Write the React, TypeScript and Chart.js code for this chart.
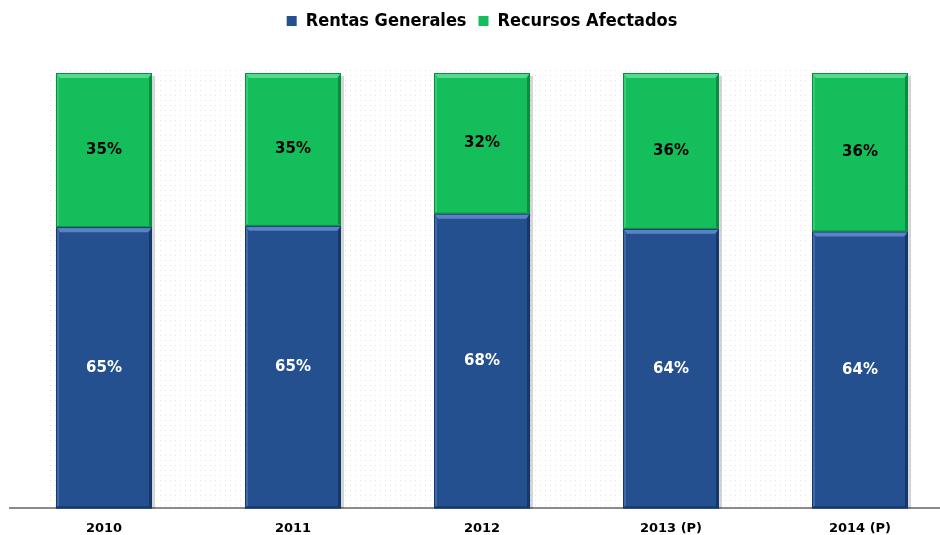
import React, { useEffect, useRef } from 'react';
import { Chart, registerables } from 'chart.js';

Chart.register(...registerables);

const categories = ['2010', '2011', '2012', '2013 (P)', '2014 (P)'];
const rentasGenerales = [64.6, 64.9, 67.7, 64.2, 63.6];
const recursosAfectados = [35.4, 35.1, 32.3, 35.8, 36.4];
const seriesNames = ['Rentas Generales', 'Recursos Afectados'];

const BLUE = '#24508F';
const BLUE_LIGHT = '#5A83C6';
const BLUE_DARK = '#17386A';
const GREEN = '#14BF5B';
const GREEN_LIGHT = '#52DB8D';
const GREEN_DARK = '#0B8C40';

function makeDotPattern(ctx: CanvasRenderingContext2D) {
  const c = document.createElement('canvas');
  c.width = 5;
  c.height = 5;
  const g = c.getContext('2d')!;
  g.fillStyle = 'rgba(170,170,170,0.3)';
  g.fillRect(0, 0, 1, 1);
  return ctx.createPattern(c, 'repeat');
}

const decorPlugin = {
  id: 'decor',
  beforeInit(chart: any) {
    const legend = chart.legend;
    if (legend) {
      const fit = legend.fit;
      legend.fit = function () {
        fit.call(this);
        this.height = 73;
      };
    }
  },
  beforeDatasetsDraw(chart: any) {
    const ctx: CanvasRenderingContext2D = chart.ctx;
    const meta0 = chart.getDatasetMeta(0);
    const meta1 = chart.getDatasetMeta(1);
    const els0 = meta0.data.map((e: any) => e.getProps(['x', 'y', 'base', 'width'], true));
    const els1 = meta1.data.map((e: any) => e.getProps(['x', 'y', 'base', 'width'], true));
    const first = els0[0];
    const last = els0[els0.length - 1];
    const left = first.x - first.width / 2 - 7;
    const right = last.x + last.width / 2 + 7;
    const top = chart.chartArea.top - 3;
    const bottom = chart.chartArea.bottom;
    ctx.save();
    const pat = makeDotPattern(ctx);
    if (pat) {
      ctx.fillStyle = pat;
      ctx.fillRect(left, top, right - left, bottom - top);
    }
    // shadows
    ctx.fillStyle = 'rgba(0,0,0,0.16)';
    els0.forEach((b: any, i: number) => {
      const t = els1[i].y;
      const r = b.x + b.width / 2;
      ctx.fillRect(r, t + 3, 3, bottom - t - 3);
    });
    ctx.restore();
  },
  afterDatasetsDraw(chart: any) {
    const ctx: CanvasRenderingContext2D = chart.ctx;
    ctx.save();
    chart.data.datasets.forEach((ds: any, di: number) => {
      const meta = chart.getDatasetMeta(di);
      const light = di === 0 ? BLUE_LIGHT : GREEN_LIGHT;
      const dark = di === 0 ? BLUE_DARK : GREEN_DARK;
      meta.data.forEach((el: any) => {
        const p = el.getProps(['x', 'y', 'base', 'width'], true);
        const l = p.x - p.width / 2;
        const r = p.x + p.width / 2;
        const t = Math.min(p.y, p.base);
        const b = Math.max(p.y, p.base);
        // top bevel
        ctx.fillStyle = light;
        ctx.beginPath();
        ctx.moveTo(l, t);
        ctx.lineTo(r, t);
        ctx.lineTo(r - 4, t + 5);
        ctx.lineTo(l + 4, t + 5);
        ctx.closePath();
        ctx.fill();
        // left bevel
        ctx.globalAlpha = 0.5;
        ctx.beginPath();
        ctx.moveTo(l, t);
        ctx.lineTo(l + 3, t + 5);
        ctx.lineTo(l + 3, b - 2);
        ctx.lineTo(l, b);
        ctx.closePath();
        ctx.fill();
        ctx.globalAlpha = 1;
        // right bevel
        ctx.fillStyle = dark;
        ctx.beginPath();
        ctx.moveTo(r, t);
        ctx.lineTo(r, b);
        ctx.lineTo(r - 3, b - 2);
        ctx.lineTo(r - 3, t + 5);
        ctx.closePath();
        ctx.fill();
        if (di === 0) {
          ctx.fillRect(l, b - 2, r - l, 2);
        }
        ctx.strokeStyle = dark;
        ctx.lineWidth = 1;
        ctx.strokeRect(l + 0.5, t + 0.5, r - l - 1, b - t - 1);
      });
    });
    // value labels
    ctx.font = "bold 15px 'DejaVu Sans', Verdana, sans-serif";
    ctx.textAlign = 'center';
    ctx.textBaseline = 'middle';
    chart.data.datasets.forEach((ds: any, di: number) => {
      const meta = chart.getDatasetMeta(di);
      ctx.fillStyle = di === 0 ? '#ffffff' : '#000000';
      meta.data.forEach((el: any, i: number) => {
        const p = el.getProps(['x', 'y', 'base'], true);
        ctx.fillText(Math.round(ds.data[i]) + '%', p.x, (p.y + p.base) / 2);
      });
    });
    ctx.restore();
  },
};

export default function App() {
  const ref = useRef<HTMLCanvasElement>(null);
  useEffect(() => {
    if (!ref.current) return;
    const chart = new Chart(ref.current, {
      type: 'bar',
      data: {
        labels: categories,
        datasets: [
          {
            label: seriesNames[0],
            data: rentasGenerales,
            backgroundColor: BLUE,
            borderColor: BLUE_DARK,
            borderWidth: 0,
          },
          {
            label: seriesNames[1],
            data: recursosAfectados,
            backgroundColor: GREEN,
            borderColor: GREEN_DARK,
            borderWidth: 0,
          },
        ],
      },
      options: {
        animation: false,
        responsive: false,
        maintainAspectRatio: false,
        layout: { padding: { left: 9.5, right: 5.5, top: 0, bottom: -13 } },
        datasets: {
          bar: { categoryPercentage: 1, barPercentage: 0.508 },
        },
        scales: {
          x: {
            stacked: true,
            grid: { display: false, drawTicks: false },
            border: { display: true, color: '#8a8a8a', width: 2 },
            ticks: {
              color: '#000',
              padding: 12,
              font: { family: "'DejaVu Sans', Verdana, sans-serif", size: 13, weight: 'bold' },
            },
          },
          y: {
            stacked: true,
            display: false,
            min: 0,
            max: 100,
          },
        },
        plugins: {
          tooltip: { enabled: false },
          legend: {
            display: true,
            position: 'top',
            labels: {
              boxWidth: 10,
              boxHeight: 10,
              padding: 12,
              color: '#000',
              font: {
                family: "'DejaVu Sans Condensed', 'DejaVu Sans', sans-serif",
                size: 18,
                weight: 'bold',
              },
            },
          },
        },
      },
      plugins: [decorPlugin],
    });
    return () => chart.destroy();
  }, []);
  return (
    <div
      style={{
        position: 'fixed',
        left: 0,
        top: 0,
        width: 940,
        height: 535,
        overflow: 'hidden',
        background: '#fff',
      }}
    >
      <canvas ref={ref} width={960} height={535} style={{ display: 'block' }} />
    </div>
  );
}
